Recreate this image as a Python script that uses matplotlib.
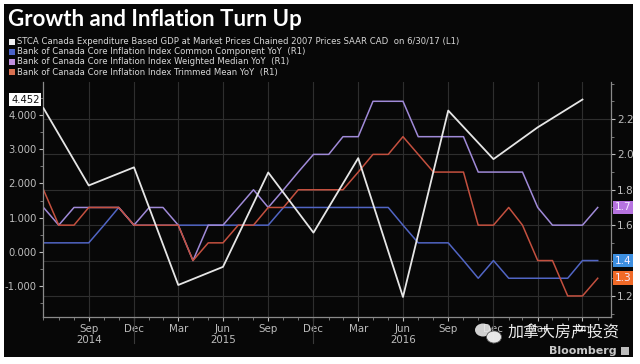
import matplotlib
matplotlib.use('Agg')
import matplotlib.pyplot as plt
import matplotlib.dates as mdates
import matplotlib.patches as mpatches
import matplotlib.transforms as mtrans
from matplotlib.ticker import MultipleLocator, FixedLocator
import pandas as pd

# ---------------- data ----------------
months = pd.date_range('2014-06-01', periods=38, freq='MS') + pd.offsets.MonthEnd(0)
gdp_dates = months[::3]
gdp = [4.20, 1.94, 2.47, -0.97, -0.44, 2.32, 0.56, 2.74, -1.32, 4.13, 2.71, 3.64, 4.452]

common = [1.5, 1.5, 1.5, 1.5, 1.6, 1.7, 1.6, 1.6, 1.6, 1.6, 1.6, 1.6, 1.6, 1.6, 1.6, 1.6,
          1.7, 1.7, 1.7, 1.7, 1.7, 1.7, 1.7, 1.7, 1.6, 1.5, 1.5, 1.5, 1.4, 1.3, 1.4, 1.3,
          1.3, 1.3, 1.3, 1.3, 1.4, 1.4]
median = [1.7, 1.6, 1.7, 1.7, 1.7, 1.7, 1.6, 1.7, 1.7, 1.6, 1.4, 1.6, 1.6, 1.7, 1.8, 1.7,
          1.8, 1.9, 2.0, 2.0, 2.1, 2.1, 2.3, 2.3, 2.3, 2.1, 2.1, 2.1, 2.1, 1.9, 1.9, 1.9,
          1.9, 1.7, 1.6, 1.6, 1.6, 1.7]
trim = [1.8, 1.6, 1.6, 1.7, 1.7, 1.7, 1.6, 1.6, 1.6, 1.6, 1.4, 1.5, 1.5, 1.6, 1.6, 1.7,
        1.7, 1.8, 1.8, 1.8, 1.8, 1.9, 2.0, 2.0, 2.1, 2.0, 1.9, 1.9, 1.9, 1.6, 1.6, 1.7,
        1.6, 1.4, 1.4, 1.2, 1.2, 1.3]

series_names = [
    "STCA Canada Expenditure Based GDP at Market Prices Chained 2007 Prices SAAR CAD  on 6/30/17 (L1)",
    "Bank of Canada Core Inflation Index Common Component YoY  (R1)",
    "Bank of Canada Core Inflation Index Weighted Median YoY  (R1)",
    "Bank of Canada Core Inflation Index Trimmed Mean YoY  (R1)",
]
tick_dates = months[3::3]
tick_labels = ['Sep\n2014', 'Dec', 'Mar', 'Jun\n2015', 'Sep', 'Dec', 'Mar', 'Jun\n2016',
               'Sep', 'Dec', 'Mar', 'Jun']
year_ends = [months[6], months[18], months[30]]
title = "Growth and Inflation Turn Up"

# ---------------- style ----------------
c_white = '#e6e6e6'
c_blue = '#5165c4'
c_purple = '#a08ad8'
c_red = '#c4503f'
sw_colors = ['#f2f2f2', '#4a62c8', '#c090e0', '#d87050']
grid_c = '#2e2e2e'
tick_c = '#bdbdbd'

fig = plt.figure(figsize=(6.4, 3.64), dpi=100, facecolor='white')
# black panel (behind everything)
bg = mpatches.Rectangle((4 / 640, 1 - 357 / 364), 629 / 640, 353 / 364,
                        transform=fig.transFigure, fc='#070707', ec='none', zorder=-10)
fig.patches.append(bg)

L, R, T, B = 43, 611, 82, 317
ax2 = fig.add_axes([L / 640, 1 - B / 364, (R - L) / 640, (B - T) / 364])
ax = ax2.twinx()
ax.yaxis.tick_left()
ax.yaxis.set_label_position('left')
ax2.yaxis.tick_right()
ax2.patch.set_visible(False)
ax.patch.set_visible(False)

# inflation lines (right axis)
ax2.plot(months, common, color=c_blue, lw=1.1, zorder=3)
ax2.plot(months, median, color=c_purple, lw=1.1, zorder=3)
ax2.plot(months, trim, color=c_red, lw=1.1, zorder=3)
# GDP (left axis)
ax.plot(gdp_dates, gdp, color=c_white, lw=1.3, zorder=4)

ax2.set_ylim(1.081, 2.409)
ax.set_ylim(-1.906, 4.965)
ax2.set_xlim(months[0] - pd.Timedelta(days=1), months[-1] + pd.Timedelta(days=27))
ax.set_xlim(ax2.get_xlim())

ax2.yaxis.set_major_locator(FixedLocator([1.2, 1.4, 1.6, 1.8, 2.0, 2.2]))
ax2.yaxis.set_minor_locator(MultipleLocator(0.1))
ax2.yaxis.set_major_formatter(matplotlib.ticker.FormatStrFormatter('%.1f'))
ax.yaxis.set_major_locator(MultipleLocator(1.0))
ax.yaxis.set_minor_locator(MultipleLocator(0.5))
ax.yaxis.set_major_formatter(matplotlib.ticker.FormatStrFormatter('%.3f'))

ax2.xaxis.set_major_locator(FixedLocator(mdates.date2num(tick_dates)))
ax2.set_xticklabels(tick_labels)
ax2.xaxis.set_minor_locator(FixedLocator(mdates.date2num(months)))
ax.tick_params(axis='x', which='both', bottom=False, labelbottom=False, top=False)

for a in (ax, ax2):
    for s in a.spines.values():
        s.set_visible(False)
ax2.spines['bottom'].set_visible(True)
ax2.spines['right'].set_visible(True)
ax.spines['left'].set_visible(True)
for s in (ax2.spines['bottom'], ax2.spines['right'], ax.spines['left']):
    s.set_color('#8a8a8a')
    s.set_linewidth(0.9)

ax2.tick_params(axis='y', which='major', colors=tick_c, labelsize=7.6, length=3, width=0.8, pad=1.5)
ax2.tick_params(axis='y', which='minor', colors='#8a8a8a', length=2, width=0.6)
ax.tick_params(axis='y', which='major', colors=tick_c, labelsize=7.2, length=3, width=0.8, pad=1.5)
ax.tick_params(axis='y', which='minor', colors='#8a8a8a', length=2, width=0.6)
ax2.tick_params(axis='x', which='major', colors=tick_c, labelsize=7.4, length=3, width=0.8, pad=2)
ax2.tick_params(axis='x', which='minor', colors='#8a8a8a', length=2, width=0.6)
for lbl in ax2.get_xticklabels():
    lbl.set_linespacing(1.15)

# grid
ax2.grid(True, which='major', axis='both', color=grid_c, lw=0.8, zorder=0)

# year separators under the axis
trans_x = mtrans.blended_transform_factory(ax2.transData, ax2.transAxes)
for d in year_ends:
    ax2.plot([d, d], [0, -0.11], transform=trans_x, color='#3a3a3a', lw=0.8, clip_on=False)

# value tags
tl = mtrans.blended_transform_factory(ax.transAxes, ax.transData)
ax.text(-0.006, gdp[-1], '4.452', transform=tl, ha='right', va='center', fontsize=7.2,
        color='#111111', bbox=dict(boxstyle='square,pad=0.18', fc='white', ec='none'), zorder=6)
tr = mtrans.blended_transform_factory(ax2.transAxes, ax2.transData)
for val, col in [(median[-1], '#b673e0'), (common[-1], '#3d8fe0'), (trim[-1], '#f06a28')]:
    ax2.text(1.006, val, f'{val:.1f}', transform=tr, ha='left', va='center', fontsize=7.6,
             color='#f4eaff', bbox=dict(boxstyle='square,pad=0.18', fc=col, ec='none'), zorder=6)

# title and legend
fig.text(8 / 640, 1 - 19 / 364, title, fontsize=16, fontweight='bold', color='white',
         family=['Lato', 'DejaVu Sans'], va='center', ha='left')
for i, (name, sc) in enumerate(zip(series_names, sw_colors)):
    yc = 42 + 10 * i
    fig.patches.append(mpatches.Rectangle((9 / 640, 1 - (yc + 3) / 364), 6 / 640, 6 / 364,
                                          transform=fig.transFigure, fc=sc, ec='none'))
    fig.text(17 / 640, 1 - yc / 364, name, fontsize=6.15, color='#d8d8d8', va='center', ha='left')

# footer
fig.text(617 / 640, 1 - 351 / 364, 'Bloomberg', fontsize=8, fontweight='bold', color='#c8c8c8',
         ha='right', va='center')
fig.patches.append(mpatches.Rectangle((621 / 640, 1 - 355 / 364), 8 / 640, 8 / 364,
                                      transform=fig.transFigure, fc='#bdbdbd', ec='none'))
# watermark
fig.patches.append(mpatches.Ellipse((483 / 640, 1 - 330 / 364), 16 / 640, 13 / 364,
                                    transform=fig.transFigure, fc='#e8e8e8', ec='none', alpha=0.9))
fig.patches.append(mpatches.Ellipse((494 / 640, 1 - 337 / 364), 15 / 640, 12 / 364,
                                    transform=fig.transFigure, fc='#f4f4f4', ec='#555555', lw=0.6, alpha=0.95))
fig.text(508 / 640, 1 - 333 / 364, '加拿大房产投资', fontsize=11.5, color='white',
         family=['Noto Sans CJK SC', 'DejaVu Sans'], ha='left', va='center', alpha=0.92)

fig.savefig('out.png', dpi=100, facecolor='white')
